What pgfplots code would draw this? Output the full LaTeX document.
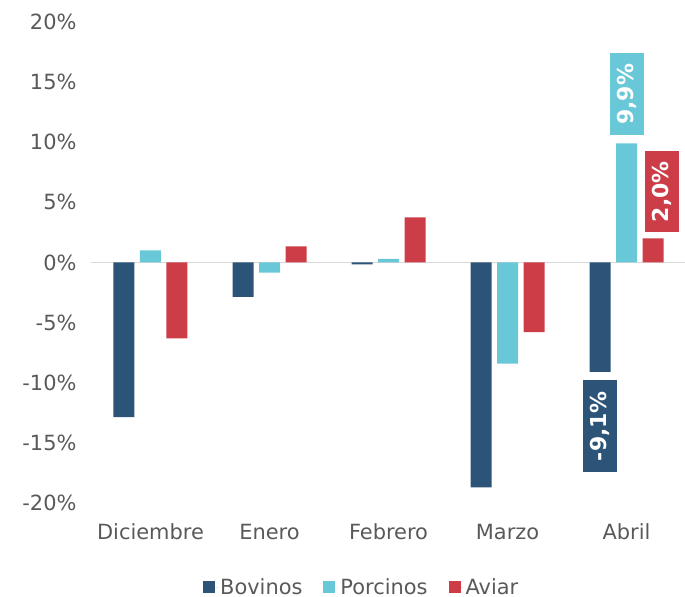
\documentclass[border=0pt]{standalone}
\usepackage{pgfplots}
\pgfplotsset{compat=1.18}
\usepackage{fontspec}
\setmainfont{DejaVu Sans}
\usetikzlibrary{calc}
\definecolor{bov}{HTML}{2C5478}
\definecolor{por}{HTML}{68C8D8}
\definecolor{avi}{HTML}{CD3D48}
\definecolor{txt}{HTML}{595959}
\definecolor{zl}{HTML}{D9D9D9}
\begin{document}
\begin{tikzpicture}
\useasboundingbox (-91bp,-94bp) rectangle (594bp,503bp);
\begin{axis}[
  at={(0,0)}, anchor=south west,
  scale only axis, width=595bp, height=481bp,
  ymin=-20, ymax=20, xmin=-0.5, xmax=4.5,
  axis line style={draw=none},
  tick style={draw=none},
  clip=false,
  ybar, bar width=21bp,
  ytick={-20,-15,...,20},
  yticklabels={-20\%,-15\%,-10\%,-5\%,0\%,5\%,10\%,15\%,20\%},
  xtick={0,1,2,3,4},
  xticklabels={Diciembre,Enero,Febrero,Marzo,Abril},
  xticklabel pos=bottom, yticklabel pos=left,
  major tick length=0pt,
  tick label style={font=\fontsize{21}{25}\selectfont, text=txt},
  yticklabel style={xshift=-11bp},
  xticklabel style={anchor=base, yshift=-36bp},
  legend columns=3,
  legend style={at={(0.455,-0.175)}, anchor=center, draw=none, fill=none,
    font=\fontsize{21}{25}\selectfont, text=txt,
    /tikz/every even column/.append style={column sep=19bp}},
  legend image code/.code={\fill[#1,draw=none] (0bp,-6bp) rectangle (12bp,6bp); \path (0bp,0bp) -- (15bp,0bp);},
]
\draw[zl, line width=1.5bp] (axis cs:-0.5,0) -- (axis cs:4.5,0);
\addplot[fill=bov, draw=none, bar shift=-26.5bp] coordinates {(0,-12.85) (1,-2.85) (2,-0.15) (3,-18.7) (4,-9.1)};
\addplot[fill=por, draw=none, bar shift=0bp] coordinates {(0,1.0) (1,-0.85) (2,0.3) (3,-8.4) (4,9.9)};
\addplot[fill=avi, draw=none, bar shift=26.5bp] coordinates {(0,-6.3) (1,1.35) (2,3.75) (3,-5.8) (4,2.0)};
\legend{Bovinos,Porcinos,Aviar}
\node[fill=por, text=white, rotate=90, anchor=west, inner sep=0pt, minimum width=82bp, minimum height=34bp, font=\bfseries\fontsize{22}{26}\selectfont] at ($(axis cs:4,9.9)+(0bp,8bp)$) {9,9\%};
\node[fill=avi, text=white, rotate=90, anchor=west, inner sep=0pt, minimum width=81bp, minimum height=34bp, font=\bfseries\fontsize{22}{26}\selectfont] at ($(axis cs:4,2.0)+(35bp,6bp)$) {2,0\%};
\node[fill=bov, text=white, rotate=90, anchor=east, inner sep=0pt, minimum width=92bp, minimum height=34bp, font=\bfseries\fontsize{22}{26}\selectfont] at ($(axis cs:4,-9.1)+(-26.5bp,-8bp)$) {-9,1\%};
\end{axis}
\end{tikzpicture}
\end{document}
